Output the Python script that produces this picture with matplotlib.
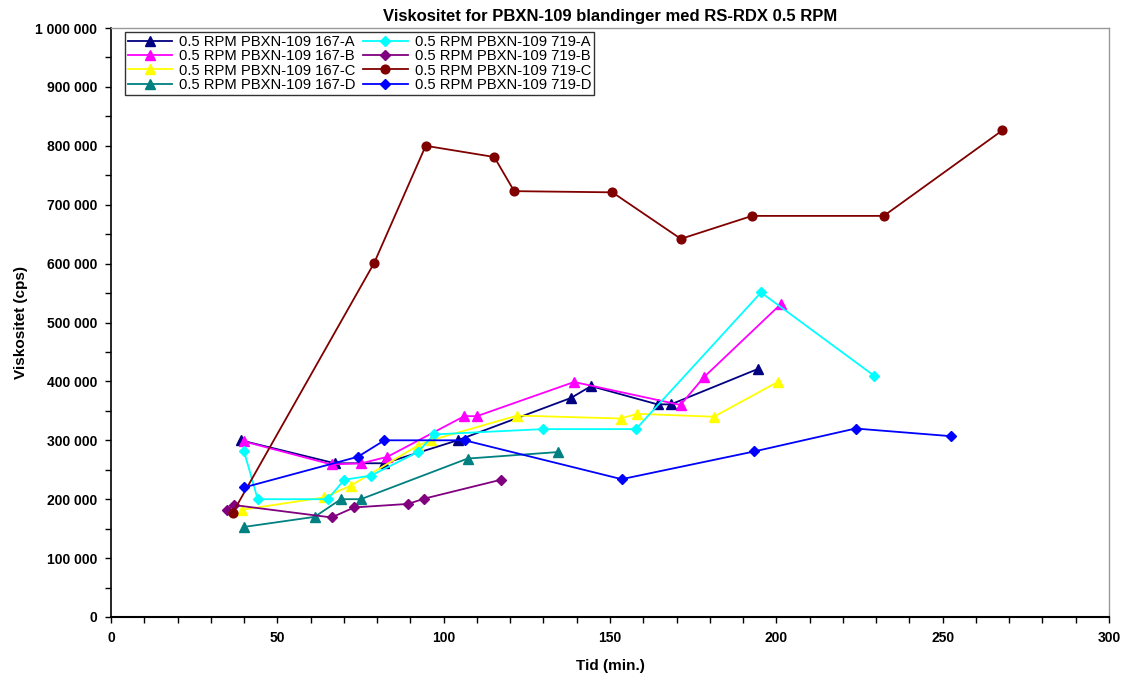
import numpy as np
import matplotlib
matplotlib.use("Agg")
import matplotlib.pyplot as plt
from matplotlib.ticker import MultipleLocator, FuncFormatter

plt.rcParams['font.family'] = ['Liberation Sans', 'DejaVu Sans']

# data (tid in min, viskositet in 1000 cps)
x_167a = [39, 67.3, 82.2, 104.2, 138.3, 144.3, 164.3, 168.3, 194.4]
y_167a = [300, 261, 261, 300, 372, 392, 361, 361, 421]

x_167b = [40, 66.3, 75.3, 83.1, 106.2, 110, 139.2, 171.2, 178.2, 201.3]
y_167b = [298, 259, 261, 272, 341, 341, 399, 360, 407, 531]

x_167c = [39.3, 64, 72.1, 92.2, 96.2, 122.1, 153.2, 158.2, 181.2, 200.4]
y_167c = [182, 203, 223, 291, 300, 342, 337, 345, 340, 399]

x_167d = [40.1, 61.2, 69.1, 75.1, 107.2, 134.3]
y_167d = [153, 170, 200, 200, 269, 280]

x_719a = [40, 44.1, 65.2, 70.1, 78.1, 92.2, 97.2, 129.8, 157.8, 195.4, 229.3]
y_719a = [281, 200, 200, 233, 240, 280, 310, 319, 319, 551, 410]

x_719b = [34.8, 37.1, 66.3, 73.1, 89.3, 94.2, 117.2]
y_719b = [182, 190, 169, 186, 192, 201, 233]

x_719c = [36.6, 79.1, 94.6, 115.2, 121.2, 150.7, 171.3, 192.7, 232.3, 267.9]
y_719c = [177, 601, 800, 781, 723, 721, 642, 681, 681, 826]

x_719d = [40, 74.2, 82.2, 106.3, 153.5, 193.3, 223.8, 252.5]
y_719d = [220, 272, 300, 300, 234, 281, 320, 307]

labels = ["0.5 RPM PBXN-109 167-A", "0.5 RPM PBXN-109 167-B",
          "0.5 RPM PBXN-109 167-C", "0.5 RPM PBXN-109 167-D",
          "0.5 RPM PBXN-109 719-A", "0.5 RPM PBXN-109 719-B",
          "0.5 RPM PBXN-109 719-C", "0.5 RPM PBXN-109 719-D"]

series = [(x_167a, y_167a, "#000080", "^"),
          (x_167b, y_167b, "#FF00FF", "^"),
          (x_167c, y_167c, "#FFFF00", "^"),
          (x_167d, y_167d, "#008080", "^"),
          (x_719a, y_719a, "#00FFFF", "D"),
          (x_719b, y_719b, "#800080", "D"),
          (x_719c, y_719c, "#800000", "o"),
          (x_719d, y_719d, "#0000FF", "D")]

fig = plt.figure(figsize=(11.28, 6.76), dpi=100)
ax = fig.add_axes([111/1128, 1 - 617/676, (1109-111)/1128, (617-28)/676])

for (xs, ys, c, m), lab in zip(series, labels):
    ms = 7.5 if m == "^" else (5.5 if m == "D" else 6.3)
    ax.plot(xs, np.array(ys) * 1000, color=c, marker=m, markersize=ms,
            linewidth=1.3, label=lab, clip_on=False)

ax.set_xlim(0, 300)
ax.set_ylim(0, 1000000)
ax.xaxis.set_major_locator(MultipleLocator(50))
ax.xaxis.set_minor_locator(MultipleLocator(10))
ax.yaxis.set_major_locator(MultipleLocator(100000))
ax.yaxis.set_minor_locator(MultipleLocator(50000))
ax.yaxis.set_major_formatter(FuncFormatter(lambda v, p: format(int(v), ",").replace(",", " ")))

ax.tick_params(which="both", direction="out", length=4, width=1, labelsize=10, pad=6)
for t in ax.get_xticklabels() + ax.get_yticklabels():
    t.set_fontweight("bold")

for s in ["top", "right"]:
    ax.spines[s].set_color("#999999")
    ax.spines[s].set_linewidth(1)
ax.spines["left"].set_linewidth(1.2)
ax.spines["bottom"].set_linewidth(1.5)

ax.set_title("Viskositet for PBXN-109 blandinger med RS-RDX 0.5 RPM",
             fontsize=12, fontweight="bold", pad=5)
ax.set_xlabel("Tid (min.)", fontsize=11, fontweight="bold", labelpad=10)
ax.set_ylabel("Viskositet (cps)", fontsize=11, fontweight="bold", labelpad=5)

leg = ax.legend(loc="upper left", bbox_to_anchor=(14/998, 1 - 4/589), ncol=2,
                fontsize=10.6, frameon=True, fancybox=False, edgecolor="black",
                labelspacing=0.02, handlelength=3, handletextpad=0.5,
                columnspacing=0.5, borderpad=0.2, borderaxespad=0)
leg.get_frame().set_linewidth(1)

plt.savefig("out.png", dpi=100)
